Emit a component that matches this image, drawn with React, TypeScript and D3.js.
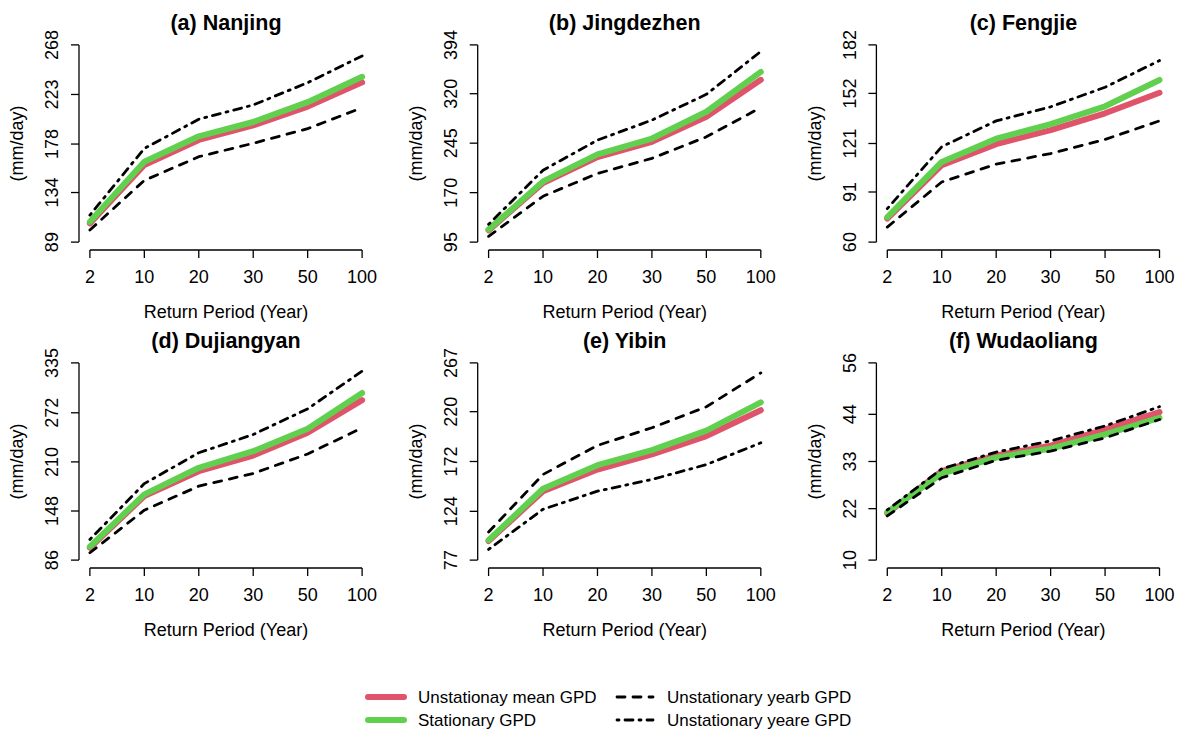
import * as d3 from "d3";
import { useEffect, useRef } from "react";

// return periods on the x axis
const periods = ["2", "10", "20", "30", "50", "100"];

const stations = [
  "(a) Nanjing",
  "(b) Jingdezhen",
  "(c) Fengjie",
  "(d) Dujiangyan",
  "(e) Yibin",
  "(f) Wudaoliang",
];

// y tick labels for each panel
const yTicks = [
  [89, 134, 178, 223, 268],
  [95, 170, 245, 320, 394],
  [60, 91, 121, 152, 182],
  [86, 148, 210, 272, 335],
  [77, 124, 172, 220, 267],
  [10, 22, 33, 44, 56],
];

// Unstationay mean GPD
const meanGPD = [
  [106, 159, 181.7, 195, 212, 234],
  [112.8, 184.7, 224, 247, 285, 341],
  [74.5, 107.6, 120.6, 129.3, 139.7, 152.4],
  [101.6, 166.8, 198.3, 218, 246.8, 288],
  [95.3, 143.4, 164.3, 178.8, 196.5, 221.4],
  [20.9, 30.75, 34.4, 36.7, 40.5, 44.5],
];

// Stationary GPD
const stationaryGPD = [
  [107.5, 162, 185, 198, 216, 239],
  [114, 187, 228, 252, 292.6, 353],
  [75.5, 109.6, 124, 133, 144, 160.3],
  [103, 169, 202.6, 223.5, 251.8, 297],
  [96.3, 145.7, 168.5, 183, 201.8, 229],
  [21.2, 30.2, 33.9, 36, 39.3, 43.2],
];

// Unstationary yearb GPD (dashed)
const yearbGPD = [
  [100, 145, 166.5, 178.7, 192, 211],
  [103.7, 164.5, 199, 222, 254.6, 299],
  [69.3, 97.2, 108.2, 114.8, 123.5, 135],
  [95.3, 149, 179.4, 195.4, 220, 253],
  [104, 159.5, 187.5, 204.5, 224.7, 257.4],
  [20.3, 29.2, 33.3, 35.4, 38.5, 42.8],
];

// Unstationary yeare GPD (dot-dash)
const yeareGPD = [
  [113.5, 174, 200.5, 213.5, 233.7, 258],
  [122, 204, 249.6, 280, 319, 384],
  [80.7, 119, 135, 143.7, 155.8, 172.3],
  [112, 182.6, 221.5, 244.6, 277, 324.6],
  [87.3, 126, 143.4, 154.7, 169, 190],
  [21.7, 31.3, 35.2, 37.8, 41.3, 45.8],
];

const RED = "#DF536B";
const GREEN = "#61D04F";
const FONT = "'Liberation Sans', Arial, sans-serif";

export default function App() {
  const ref = useRef(null);

  useEffect(() => {
    const svg = d3.select(ref.current);
    svg.selectAll("*").remove();

    const panelW = 294;
    const panelH = 213;

    stations.forEach((name, i) => {
      const col = i % 3;
      const row = Math.floor(i / 3);
      const left = 79 + col * 398.7;
      const top = 37 + row * 318;
      const bottom = top + panelH;

      const ticks = yTicks[i];
      const span = ticks[4] - ticks[0];

      const x = d3.scalePoint().domain(periods).range([left, left + panelW]).padding(0.2);
      const y = d3
        .scaleLinear()
        .domain([ticks[0] - 0.04 * span, ticks[4] + 0.04 * span])
        .range([bottom, top]);

      const g = svg.append("g");

      // title
      g.append("text")
        .attr("x", left + panelW / 2)
        .attr("y", top - 15)
        .attr("dy", "0.35em")
        .attr("text-anchor", "middle")
        .attr("font-weight", "bold")
        .attr("font-size", 21.5)
        .text(name);

      // y axis
      g.append("line")
        .attr("x1", left).attr("x2", left)
        .attr("y1", y(ticks[0])).attr("y2", y(ticks[4]))
        .attr("stroke", "black").attr("stroke-width", 1.3);
      g.selectAll(".ytick")
        .data(ticks)
        .enter()
        .append("line")
        .attr("x1", left - 8).attr("x2", left)
        .attr("y1", (d) => y(d)).attr("y2", (d) => y(d))
        .attr("stroke", "black").attr("stroke-width", 1.3);
      g.selectAll(".ylab")
        .data(ticks)
        .enter()
        .append("text")
        .attr("transform", (d) => `translate(${left - 27},${y(d)}) rotate(-90)`)
        .attr("dy", "0.35em")
        .attr("text-anchor", "middle")
        .attr("font-size", 18)
        .text((d) => d);
      g.append("text")
        .attr("transform", `translate(${left - 62},${(top + bottom) / 2}) rotate(-90)`)
        .attr("dy", "0.35em")
        .attr("text-anchor", "middle")
        .attr("font-size", 18)
        .text("(mm/day)");

      // x axis
      g.append("line")
        .attr("x1", x(periods[0])).attr("x2", x(periods[5]))
        .attr("y1", bottom).attr("y2", bottom)
        .attr("stroke", "black").attr("stroke-width", 1.3);
      g.selectAll(".xtick")
        .data(periods)
        .enter()
        .append("line")
        .attr("x1", (d) => x(d)).attr("x2", (d) => x(d))
        .attr("y1", bottom).attr("y2", bottom + 8)
        .attr("stroke", "black").attr("stroke-width", 1.3);
      g.selectAll(".xlab")
        .data(periods)
        .enter()
        .append("text")
        .attr("x", (d) => x(d))
        .attr("y", bottom + 27)
        .attr("dy", "0.35em")
        .attr("text-anchor", "middle")
        .attr("font-size", 18)
        .text((d) => d);
      g.append("text")
        .attr("x", left + panelW / 2)
        .attr("y", bottom + 62)
        .attr("dy", "0.35em")
        .attr("text-anchor", "middle")
        .attr("font-size", 18)
        .text("Return Period (Year)");

      const line = d3
        .line()
        .x((d, k) => x(periods[k]))
        .y((d) => y(d));

      const series = [
        { values: meanGPD[i], color: RED, width: 6, dash: null },
        { values: stationaryGPD[i], color: GREEN, width: 6, dash: null },
        { values: yearbGPD[i], color: "black", width: 2.8, dash: "8,8" },
        { values: yeareGPD[i], color: "black", width: 2.8, dash: "2,6,8,6" },
      ];

      series.forEach((s) => {
        g.append("path")
          .datum(s.values)
          .attr("fill", "none")
          .attr("stroke", s.color)
          .attr("stroke-width", s.width)
          .attr("stroke-linecap", "round")
          .attr("stroke-linejoin", "round")
          .attr("stroke-dasharray", s.dash)
          .attr("d", line);
      });
    });

    // legend
    const legendItems = [
      { label: "Unstationay mean GPD", color: RED, width: 6, dash: null, x: 368, y: 697 },
      { label: "Stationary GPD", color: GREEN, width: 6, dash: null, x: 368, y: 720 },
      { label: "Unstationary yearb GPD", color: "black", width: 2.8, dash: "8,8", x: 617, y: 697 },
      { label: "Unstationary yeare GPD", color: "black", width: 2.8, dash: "2,6,8,6", x: 617, y: 720 },
    ];
    const lg = svg.append("g");
    legendItems.forEach((it) => {
      lg.append("line")
        .attr("x1", it.x).attr("x2", it.x + 36)
        .attr("y1", it.y).attr("y2", it.y)
        .attr("stroke", it.color)
        .attr("stroke-width", it.width)
        .attr("stroke-linecap", "round")
        .attr("stroke-dasharray", it.dash);
      lg.append("text")
        .attr("x", it.x + 50)
        .attr("y", it.y)
        .attr("dy", "0.35em")
        .attr("font-size", 17)
        .text(it.label);
    });
  }, []);

  return (
    <svg
      ref={ref}
      width={1183}
      height={731}
      style={{ position: "absolute", left: 0, top: 0, background: "white", fontFamily: FONT }}
    />
  );
}
